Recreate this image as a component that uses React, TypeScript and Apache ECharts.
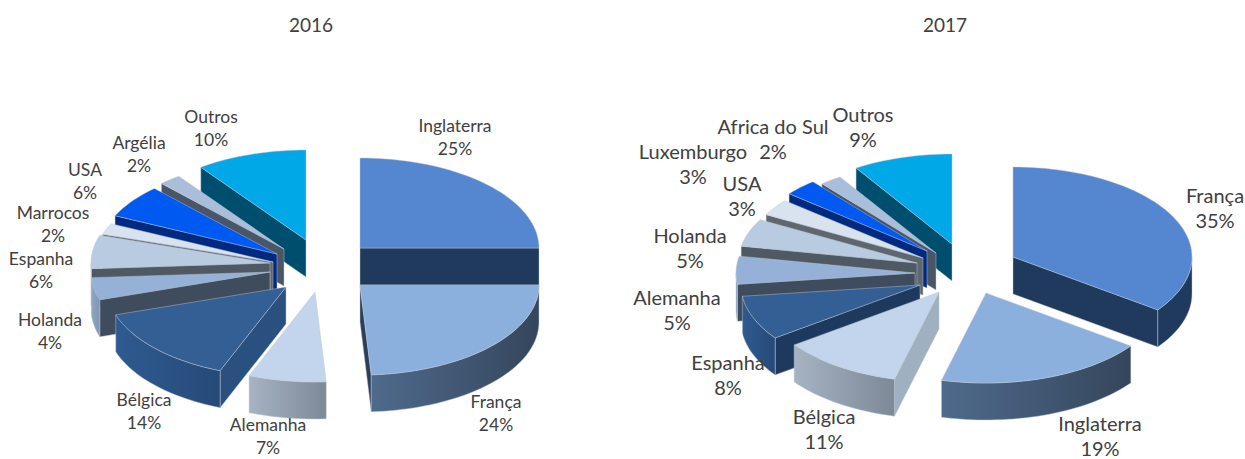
import React, { useEffect, useRef } from "react";
import * as echarts from "echarts";

const FONT = "Lato, 'Open Sans', sans-serif";

// ---- data ----
const names2016 = ["Inglaterra", "França", "Alemanha", "Bélgica", "Holanda", "Espanha", "Marrocos", "USA", "Argélia", "Outros"];
const values2016 = [25, 24, 7, 14, 4, 6, 2, 6, 2, 10];
const names2017 = ["França", "Inglaterra", "Bélgica", "Espanha", "Alemanha", "Holanda", "USA", "Luxemburgo", "Africa do Sul", "Outros"];
const values2017 = [35, 19, 11, 8, 5, 5, 3, 3, 2, 9];

// ---- styling by slice position ----
const topColors = ["#5587D0", "#8CB0DE", "#C2D5EC", "#335F95", "#95B1D8", "#B8CBE1", "#D9E3F0", "#0059F0", "#A9BEDB", "#00A8E8"];
const radial2016 = ["#1F3A5C", "#2C3F58", "#9FB0C0", "#2A5080", "#3F4C5E", "#4F5964", "#5E6670", "#002A80", "#4A5566", "#004E6E"];
const radial2017 = ["#1F3A5C", "#2C3F58", "#9FB0C0", "#1D3A5E", "#3F4C5E", "#4F5964", "#5E6670", "#002A80", "#4A5566", "#004E6E"];
const arcLeft = ["#1F3A5C", "#4F6A8C", "#A6B3C3", "#2F5A90", "#90A6C4", "#A9BCCF", "#C0CAD6", "#0040B0", "#8DA0BB", "#0088BE"];
const arcRight = ["#1F3A5C", "#35465C", "#7D8997", "#264A78", "#7F95B4", "#95A8BC", "#A8B2BE", "#0040B0", "#7D90AB", "#0078A8"];

// ---- layout: exploded offset of every slice from the pie's centre ----
const center2016 = [290, 258];
const center2017 = [945, 258];
const offset2016 = [[70, -10], [70, 27], [25, 34], [-4, 29], [-20, 14], [-20, 5], [-17, 4], [-13, -4], [-6, -9], [16, -18]];
const offset2017 = [[68, -1], [41, 35], [-6, 34], [-25, 27], [-30, 15], [-28, 5], [-22, 0], [-18, -7], [-9, -5], [7, -14]];
const labelPos2016 = [[455, 137], [496, 413], [268, 436], [144, 411], [50, 331], [41, 270], [53, 224], [85, 181], [139, 154], [211, 128]];
const labelPos2017 = [[1215, 207], [1100, 435], [824, 428], [728, 374], [677, 309], [690, 247], [742, 195], [693, 163], [773, 138], [863, 126]];

const RX = 179;
const RY = 90;
const DEPTH = 37;

function pt(cx: number, cy: number, deg: number) {
  const a = (deg * Math.PI) / 180;
  return [cx + RX * Math.sin(a), cy - RY * Math.cos(a)];
}

function arcPoints(cx: number, cy: number, a0: number, a1: number) {
  const n = Math.max(2, Math.ceil((a1 - a0) / 2));
  const out: number[][] = [];
  for (let i = 0; i <= n; i++) out.push(pt(cx, cy, a0 + ((a1 - a0) * i) / n));
  return out;
}

function makeSeries(
  names: string[],
  values: number[],
  center: number[],
  offset: number[][],
  labels: number[][],
  radialColors: string[],
  fontSize: number,
  lineHeight: number,
) {
  const total = values.reduce((s, v) => s + v, 0);
  const starts: number[] = [];
  values.reduce((s, v, i) => {
    starts[i] = s;
    return s + v;
  }, 0);
  const edge = "rgba(190,200,212,0.75)";
  return {
    type: "custom",
    coordinateSystem: "none",
    silent: true,
    data: values.map((v, i) => ({ name: names[i], value: [v, starts[i]] })),
    renderItem: (params: any, api: any) => {
      const i = params.dataIndex;
      const a0 = (api.value(1) / total) * 360;
      const a1 = a0 + (api.value(0) / total) * 360;
      const cx = center[0] + offset[i][0];
      const cy = center[1] + offset[i][1];
      const z = Math.round((180 - Math.abs((a0 + a1) / 2 - 180)) * 10) + 10;
      const children: any[] = [];
      const radial = (deg: number) => {
        const t = pt(cx, cy, deg);
        children.push({
          type: "polygon",
          z2: z,
          shape: { points: [[cx, cy], t, [t[0], t[1] + DEPTH], [cx, cy + DEPTH]] },
          style: { fill: radialColors[i], stroke: edge, lineWidth: 0.6 },
        });
      };
      if (Math.sin((a0 * Math.PI) / 180) < -0.001) radial(a0);
      if (Math.sin((a1 * Math.PI) / 180) > 0.001) radial(a1);
      const w0 = Math.max(a0, 90);
      const w1 = Math.min(a1, 270);
      if (w1 > w0) {
        const arc = arcPoints(cx, cy, w0, w1);
        const lower = arc.map((p) => [p[0], p[1] + DEPTH]).reverse();
        children.push({
          type: "polygon",
          z2: z + 1,
          shape: { points: arc.concat(lower) },
          style: {
            fill: new echarts.graphic.LinearGradient(0, 0, 1, 0, [
              { offset: 0, color: arcLeft[i] },
              { offset: 1, color: arcRight[i] },
            ]),
            stroke: edge,
            lineWidth: 0.6,
          },
        });
      }
      children.push({
        type: "polygon",
        z2: z + 2,
        shape: { points: [[cx, cy], ...arcPoints(cx, cy, a0, a1)] },
        style: { fill: topColors[i], stroke: edge, lineWidth: 0.6 },
      });
      children.push({
        type: "text",
        z2: 5000,
        x: labels[i][0],
        y: labels[i][1],
        style: {
          text: `${names[i]}\n${api.value(0)}%`,
          fill: "#404040",
          fontFamily: FONT,
          fontSize,
          lineHeight,
          align: "center",
          verticalAlign: "middle",
        },
      });
      return { type: "group", children };
    },
  };
}

export default function App() {
  const ref = useRef<HTMLDivElement>(null);
  useEffect(() => {
    document.body.style.margin = "0";
    const chart = echarts.init(ref.current!, null, { renderer: "svg" });
    const titleStyle = { color: "#404040", fontFamily: FONT, fontSize: 19, fontWeight: "normal" as const };
    chart.setOption({
      animation: false,
      backgroundColor: "#ffffff",
      title: [
        { text: "2016", left: 306, top: 10, textAlign: "center", textStyle: titleStyle },
        { text: "2017", left: 940, top: 10, textAlign: "center", textStyle: titleStyle },
      ],
      series: [
        makeSeries(names2016, values2016, center2016, offset2016, labelPos2016, radial2016, 17.5, 23),
        makeSeries(names2017, values2017, center2017, offset2017, labelPos2017, radial2017, 20, 25),
      ],
    });
    return () => chart.dispose();
  }, []);
  return <div ref={ref} style={{ width: 1245, height: 459 }} />;
}
